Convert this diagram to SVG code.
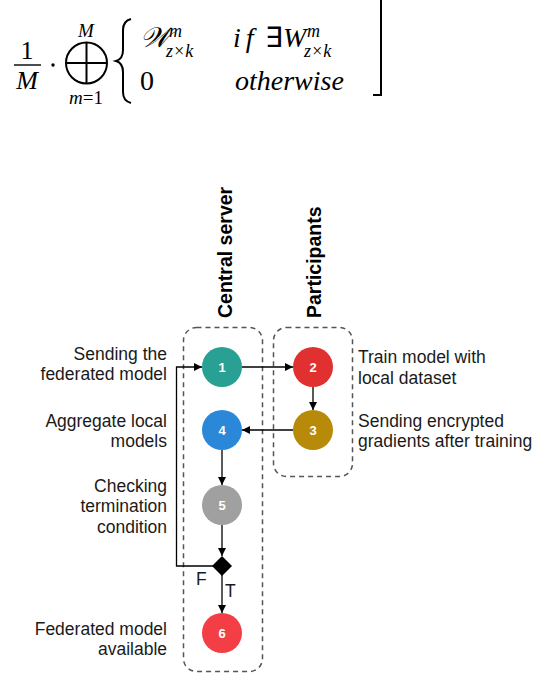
<svg xmlns="http://www.w3.org/2000/svg" width="552" height="690" viewBox="0 0 552 690">
<style>
.m{font-family:"Liberation Serif","Times New Roman",serif;fill:#000}
.it{font-style:italic}
.lbl{font-family:"Liberation Sans",Arial,Helvetica,sans-serif;font-size:17.5px;fill:#1a1a1a}
.hdr{font-family:"Liberation Sans",Arial,Helvetica,sans-serif;font-size:19.5px;font-weight:bold;fill:#000}
.num{font-family:"Liberation Sans",Arial,sans-serif;font-size:13px;font-weight:bold;fill:#fff;text-anchor:middle}
.box{fill:none;stroke:#555;stroke-width:1.5;stroke-dasharray:5 4}
.con{fill:none;stroke:#000;stroke-width:1.3}
</style>
<defs>
<marker id="ah" viewBox="0 0 10 10" refX="10" refY="5" markerWidth="8" markerHeight="8" markerUnits="userSpaceOnUse" orient="auto">
<path d="M0,0 L10,5 L0,10 z" fill="#000"/>
</marker>
</defs>
<rect width="552" height="690" fill="#fff"/>
<g id="formula">
<text class="m" x="27" y="59" font-size="26" text-anchor="middle">1</text>
<line x1="14" y1="65" x2="41" y2="65" stroke="#000" stroke-width="1.4"/>
<text class="m it" x="27" y="89" font-size="26" text-anchor="middle">M</text>
<circle cx="53" cy="65" r="1.7" fill="#000"/>
<circle cx="86.5" cy="63" r="20.5" fill="none" stroke="#000" stroke-width="2"/>
<line x1="66" y1="63" x2="107" y2="63" stroke="#000" stroke-width="2"/>
<line x1="86.5" y1="42.5" x2="86.5" y2="83.5" stroke="#000" stroke-width="2"/>
<text class="m it" x="86" y="37" font-size="19" text-anchor="middle">M</text>
<text class="m" x="86" y="104" font-size="19" text-anchor="middle"><tspan font-style="italic">m</tspan>=1</text>
<path d="M131,19 Q123,21 123,30 L123,50 Q123,59 116,61 Q123,63 123,72 L123,92 Q123,101 131,103" fill="none" stroke="#000" stroke-width="2"/>
<text class="m it" x="140" y="47" font-size="28">𝒲</text>
<text class="m it" x="169" y="37" font-size="18">m</text>
<text class="m it" x="166" y="57" font-size="18">z×k</text>
<text class="m it" x="233" y="47" font-size="28" letter-spacing="5">if</text>
<text class="m" x="265" y="47" font-size="28">∃<tspan font-style="italic">W</tspan></text>
<text class="m it" x="307" y="37" font-size="18">m</text>
<text class="m it" x="304" y="57" font-size="18">z×k</text>
<text class="m" x="140" y="90" font-size="28">0</text>
<text class="m it" x="235" y="90" font-size="28">otherwise</text>
<path d="M381,0 V95 H373" fill="none" stroke="#000" stroke-width="2"/>
</g>
<g id="lanes">
<rect class="box" x="183.5" y="327.5" width="79" height="344" rx="13"/>
<rect class="box" x="273.5" y="327.5" width="79" height="149" rx="13"/>
<text class="hdr" transform="translate(232,318) rotate(-90)">Central server</text>
<text class="hdr" transform="translate(321,318) rotate(-90)">Participants</text>
</g>
<g id="connectors">
<line class="con" x1="242" y1="367" x2="293" y2="367" marker-end="url(#ah)"/>
<line class="con" x1="313" y1="387" x2="313" y2="410" marker-end="url(#ah)"/>
<line class="con" x1="293" y1="430" x2="242" y2="430" marker-end="url(#ah)"/>
<line class="con" x1="222" y1="450" x2="222" y2="485" marker-end="url(#ah)"/>
<line class="con" x1="222" y1="525" x2="222" y2="556" marker-end="url(#ah)"/>
<line class="con" x1="222" y1="575" x2="222" y2="613" marker-end="url(#ah)"/>
<path class="con" d="M213,566 H176.5 V367 H202" marker-end="url(#ah)"/>
<text class="lbl" x="196" y="585" font-size="18">F</text>
<text class="lbl" x="225" y="597" font-size="18">T</text>
</g>
<g id="node1"><circle cx="222" cy="367" r="20" fill="#28a093"/><text class="num" x="222" y="372">1</text></g>
<g id="node2"><circle cx="313" cy="367" r="20" fill="#e0302f"/><text class="num" x="313" y="372">2</text></g>
<g id="node3"><circle cx="313" cy="430" r="20" fill="#b88a0a"/><text class="num" x="313" y="435">3</text></g>
<g id="node4"><circle cx="222" cy="430" r="20" fill="#2b88d8"/><text class="num" x="222" y="435">4</text></g>
<g id="node5"><circle cx="222" cy="505" r="20" fill="#a0a0a0"/><text class="num" x="222" y="510">5</text></g>
<g id="decision"><path d="M222,556 L232,566 L222,576 L212,566 z" fill="#000"/></g>
<g id="node6"><circle cx="222" cy="633" r="20" fill="#f43e46"/><text class="num" x="222" y="638">6</text></g>
<g id="labels">
<text class="lbl" text-anchor="end" x="167" y="360">Sending the</text>
<text class="lbl" text-anchor="end" x="167" y="380">federated model</text>
<text class="lbl" text-anchor="end" x="167" y="427">Aggregate local</text>
<text class="lbl" text-anchor="end" x="167" y="447">models</text>
<text class="lbl" text-anchor="end" x="167" y="492">Checking</text>
<text class="lbl" text-anchor="end" x="167" y="512">termination</text>
<text class="lbl" text-anchor="end" x="167" y="533">condition</text>
<text class="lbl" text-anchor="end" x="167" y="635">Federated model</text>
<text class="lbl" text-anchor="end" x="167" y="655">available</text>
<text class="lbl" x="358" y="363">Train model with</text>
<text class="lbl" x="358" y="384">local dataset</text>
<text class="lbl" x="358" y="427">Sending encrypted</text>
<text class="lbl" x="358" y="447">gradients after training</text>
</g>
</svg>
